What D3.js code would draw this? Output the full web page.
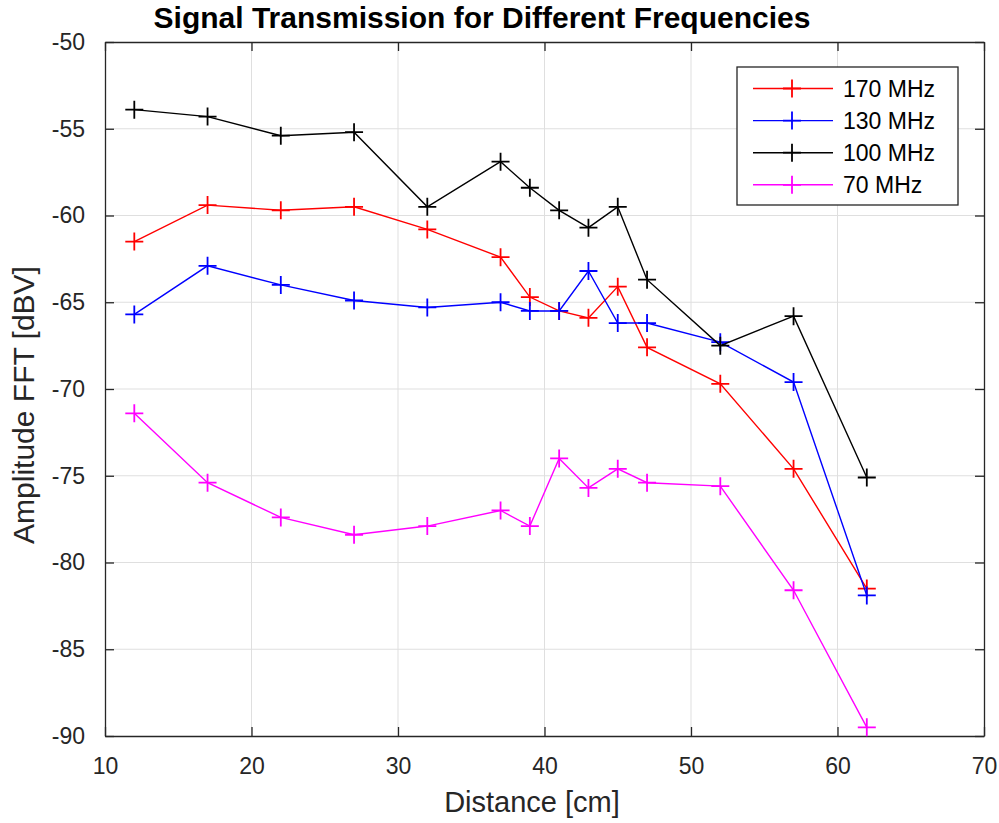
<!DOCTYPE html>
<html>
<head>
<meta charset="utf-8">
<script src="https://cdn.jsdelivr.net/npm/d3@7"></script>
<style>
  body { margin: 0; background: #fff; }
  svg { display: block; font-family: "Liberation Sans", Arial, sans-serif; }
</style>
</head>
<body>
<div id="chart"></div>
<script>
"use strict";

// distances [cm]
var distances = [12, 17, 22, 27, 32, 37, 39, 41, 43, 45, 47, 52, 57, 62];

// amplitudes [dBV] per frequency
var amp170 = [-61.5, -59.4, -59.7, -59.5, -60.8, -62.4, -64.7, -65.5, -65.9, -64.1, -67.6, -69.7, -74.6, -81.5];
var amp130 = [-65.7, -62.9, -64.0, -64.9, -65.3, -65.0, -65.5, -65.5, -63.2, -66.2, -66.2, -67.3, -69.6, -81.9];
var amp100 = [-53.9, -54.3, -55.4, -55.2, -59.5, -56.9, -58.4, -59.7, -60.7, -59.5, -63.7, -67.5, -65.8, -75.1];
var amp70  = [-71.4, -75.4, -77.4, -78.4, -77.9, -77.0, -77.9, -74.0, -75.7, -74.6, -75.4, -75.6, -81.6, -89.5];

var seriesNames = ["170 MHz", "130 MHz", "100 MHz", "70 MHz"];
var seriesColors = ["#ff0000", "#0000ff", "#000000", "#ff00ff"];
var seriesValues = [amp170, amp130, amp100, amp70];

var xTicks = [10, 20, 30, 40, 50, 60, 70];
var yTicks = [-50, -55, -60, -65, -70, -75, -80, -85, -90];

(function() {

    var W = 999, H = 823;
    var plot = {left: 105, right: 984, top: 42, bottom: 736};

    var x = d3.scaleLinear().domain([10, 70]).range([plot.left, plot.right]);
    var y = d3.scaleLinear().domain([-90, -50]).range([plot.bottom, plot.top]);

    var svg = d3.select("#chart").append("svg")
        .attr("width", W).attr("height", H);

    // grid
    var grid = svg.append("g").attr("stroke", "#dfdfdf").attr("stroke-width", 1);
    grid.selectAll("line.gx").data(xTicks.slice(1, -1)).enter().append("line")
        .attr("x1", d => x(d)).attr("x2", d => x(d))
        .attr("y1", plot.top).attr("y2", plot.bottom);
    grid.selectAll("line.gy").data(yTicks.slice(1, -1)).enter().append("line")
        .attr("y1", d => y(d)).attr("y2", d => y(d))
        .attr("x1", plot.left).attr("x2", plot.right);

    // axes (ticks inward)
    var axisColor = "#262626";
    var axB = svg.append("g").attr("transform", "translate(0," + plot.bottom + ")")
        .call(d3.axisBottom(x).tickValues(xTicks).tickSizeInner(-9).tickSizeOuter(0).tickPadding(22));
    var axT = svg.append("g").attr("transform", "translate(0," + plot.top + ")")
        .call(d3.axisTop(x).tickValues(xTicks).tickSizeInner(-9).tickSizeOuter(0).tickFormat(""));
    var axL = svg.append("g").attr("transform", "translate(" + plot.left + ",0)")
        .call(d3.axisLeft(y).tickValues(yTicks).tickSizeInner(-9).tickSizeOuter(0).tickPadding(20));
    var axR = svg.append("g").attr("transform", "translate(" + plot.right + ",0)")
        .call(d3.axisRight(y).tickValues(yTicks).tickSizeInner(-9).tickSizeOuter(0).tickFormat(""));

    [axB, axT, axL, axR].forEach(function(g) {
        g.select(".domain").attr("stroke", axisColor).attr("stroke-width", 1.3);
        g.selectAll(".tick line").attr("stroke", axisColor).attr("stroke-width", 1.3);
        g.selectAll(".tick text").attr("fill", "#262626")
            .style("font-size", "23px").style("font-family", "Liberation Sans, Arial, sans-serif");
    });
    axL.selectAll(".tick text").text(d => d < 0 ? "-" + Math.abs(d) : d);

    // series lines + markers
    var line = d3.line().x(d => x(d[0])).y(d => y(d[1]));
    var arm = 9;

    seriesValues.forEach(function(vals, i) {
        var pts = distances.map((d, j) => [d, vals[j]]);
        var g = svg.append("g");
        g.append("path").datum(pts)
            .attr("d", line)
            .attr("fill", "none")
            .attr("stroke", seriesColors[i])
            .attr("stroke-width", 1.4);
        g.selectAll("path.m").data(pts).enter().append("path")
            .attr("d", d => "M" + (x(d[0]) - arm) + "," + y(d[1]) + "h" + (2 * arm) +
                            "M" + x(d[0]) + "," + (y(d[1]) - arm) + "v" + (2 * arm))
            .attr("stroke", seriesColors[i])
            .attr("stroke-width", 1.8)
            .attr("fill", "none");
    });

    // legend
    var lg = svg.append("g");
    lg.append("rect")
        .attr("x", 737).attr("y", 67).attr("width", 221).attr("height", 138)
        .attr("fill", "#fff").attr("stroke", axisColor).attr("stroke-width", 1.3);
    seriesNames.forEach(function(name, i) {
        var yy = 88.5 + i * 32.1;
        lg.append("line").attr("x1", 753).attr("x2", 833).attr("y1", yy).attr("y2", yy)
            .attr("stroke", seriesColors[i]).attr("stroke-width", 1.4);
        lg.append("path")
            .attr("d", "M" + (792 - arm) + "," + yy + "h" + (2 * arm) + "M792," + (yy - arm) + "v" + (2 * arm))
            .attr("stroke", seriesColors[i]).attr("stroke-width", 1.8);
        lg.append("text").attr("x", 843).attr("y", yy + 8)
            .attr("fill", "#000").style("font-size", "23px").text(name);
    });

    // title and labels
    svg.append("text")
        .attr("x", 482).attr("y", 28)
        .attr("text-anchor", "middle")
        .style("font-size", "30px").style("font-weight", "bold")
        .text("Signal Transmission for Different Frequencies");

    svg.append("text")
        .attr("x", 532).attr("y", 812)
        .attr("text-anchor", "middle").attr("fill", "#262626")
        .style("font-size", "29px")
        .text("Distance [cm]");

    svg.append("text")
        .attr("transform", "translate(34,405) rotate(-90)")
        .attr("text-anchor", "middle").attr("fill", "#262626")
        .style("font-size", "30px")
        .text("Amplitude FFT [dBV]");

})();
</script>
</body>
</html>
